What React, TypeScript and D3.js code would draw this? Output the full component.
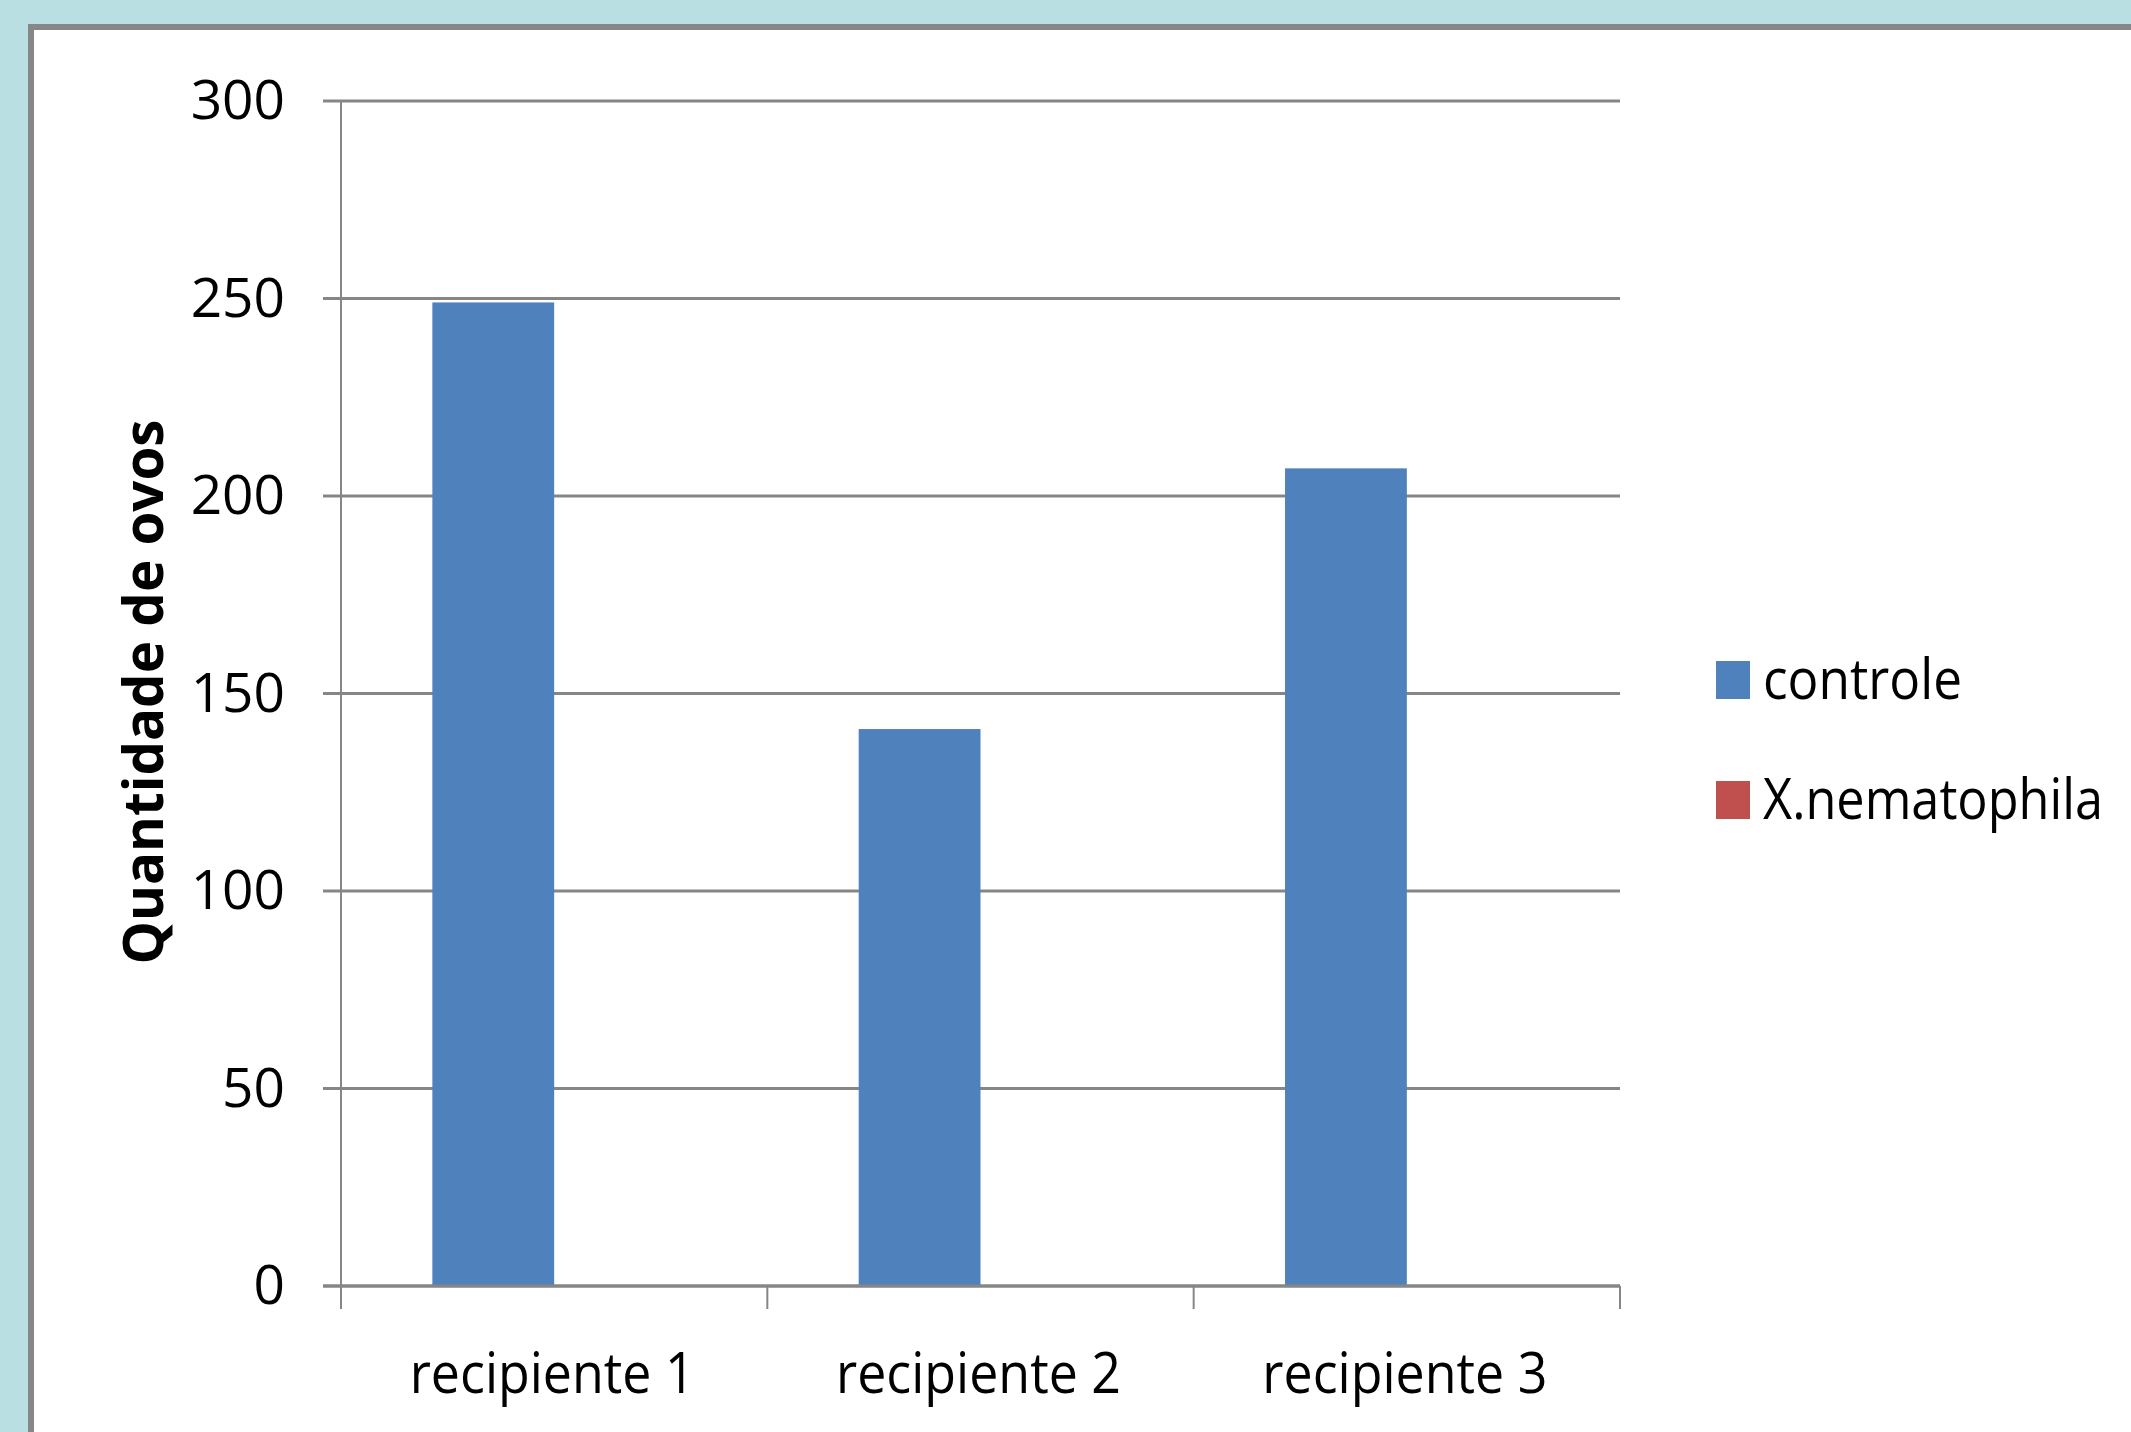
import React from "react";
import * as d3 from "d3";

const categories = ["recipiente 1", "recipiente 2", "recipiente 3"];
const seriesNames = ["controle", "X.nematophila"];
const controleValues = [249, 141, 207];
const nematophilaValues = [0, 0, 0];
const yTicks = [0, 50, 100, 150, 200, 250, 300];
const seriesColors = ["#4F81BD", "#C0504D"];

const W = 2131;
const H = 1432;
const FONT = "'Open Sans', 'DejaVu Sans', sans-serif";

export default function App() {
  const x = d3.scaleBand<string>().domain(categories).range([341, 1620]).padding(0);
  const xs = d3
    .scaleBand<string>()
    .domain(seriesNames)
    .range([0, x.bandwidth()])
    .paddingInner(0)
    .paddingOuter(0.75);
  const y = d3.scaleLinear().domain([0, 300]).range([1286, 101]);
  const series = [controleValues, nematophilaValues];

  const tickLen = 23;
  const xTickPositions = [...categories.map((c) => x(c) as number), x.range()[1]];

  return (
    <svg
      width={W}
      height={H}
      style={{ position: "absolute", left: 0, top: 0, display: "block" }}
      fontFamily={FONT}
    >
      <rect x={0} y={0} width={W} height={H} fill="#B9DFE3" />
      <rect x={28} y={24} width={W - 28} height={H - 24} fill="#878787" />
      <rect x={34} y={30} width={W - 34} height={H - 30} fill="#FFFFFF" />

      {/* gridlines */}
      {yTicks.map((t) => (
        <line
          key={"g" + t}
          x1={323}
          x2={1620}
          y1={y(t)}
          y2={y(t)}
          stroke="#868686"
          strokeWidth={3}
        />
      ))}

      {/* bars */}
      {series.map((vals, si) =>
        categories.map((c, ci) => {
          const v = vals[ci];
          if (!v) return null;
          const bx = (x(c) as number) + (xs(seriesNames[si]) as number);
          return (
            <rect
              key={si + "-" + ci}
              x={bx}
              y={y(v)}
              width={xs.bandwidth()}
              height={y(0) - y(v)}
              fill={seriesColors[si]}
            />
          );
        })
      )}

      {/* y axis */}
      <line x1={341} x2={341} y1={y(300)} y2={y(0) + tickLen} stroke="#868686" strokeWidth={2} />
      {/* x axis */}
      <line x1={323} x2={1620} y1={y(0)} y2={y(0)} stroke="#868686" strokeWidth={3} />
      {xTickPositions.map((p, i) => (
        <line
          key={"xt" + i}
          x1={p}
          x2={p}
          y1={y(0)}
          y2={y(0) + tickLen}
          stroke="#868686"
          strokeWidth={2}
        />
      ))}

      {/* y tick labels */}
      {yTicks.map((t) => (
        <text
          key={"yl" + t}
          x={285}
          y={y(t) + 18}
          textAnchor="end"
          fontSize={55}
          fill="#000"
        >
          {t}
        </text>
      ))}

      {/* x labels */}
      {categories.map((c) => (
        <text
          key={"xl" + c}
          x={(x(c) as number) + x.bandwidth() / 2 - 2}
          y={1393}
          textAnchor="middle"
          fontSize={56}
          textLength={285}
          lengthAdjust="spacingAndGlyphs"
          fill="#000"
        >
          {c}
        </text>
      ))}

      {/* y title */}
      <text
        transform="translate(163, 692) rotate(-90)"
        textAnchor="middle"
        fontSize={56}
        fontWeight="bold"
        textLength={545}
        lengthAdjust="spacingAndGlyphs"
        fill="#000"
      >
        Quantidade de ovos
      </text>

      {/* legend */}
      {seriesNames.map((s, i) => (
        <g key={"lg" + s} transform={`translate(1716, ${661 + i * 120})`}>
          <rect x={0} y={0} width={34} height={38} fill={seriesColors[i]} />
          <text
            x={47}
            y={38}
            fontSize={56}
            textLength={i === 0 ? 199 : 340}
            lengthAdjust="spacingAndGlyphs"
            fill="#000"
          >
            {s}
          </text>
        </g>
      ))}
    </svg>
  );
}
